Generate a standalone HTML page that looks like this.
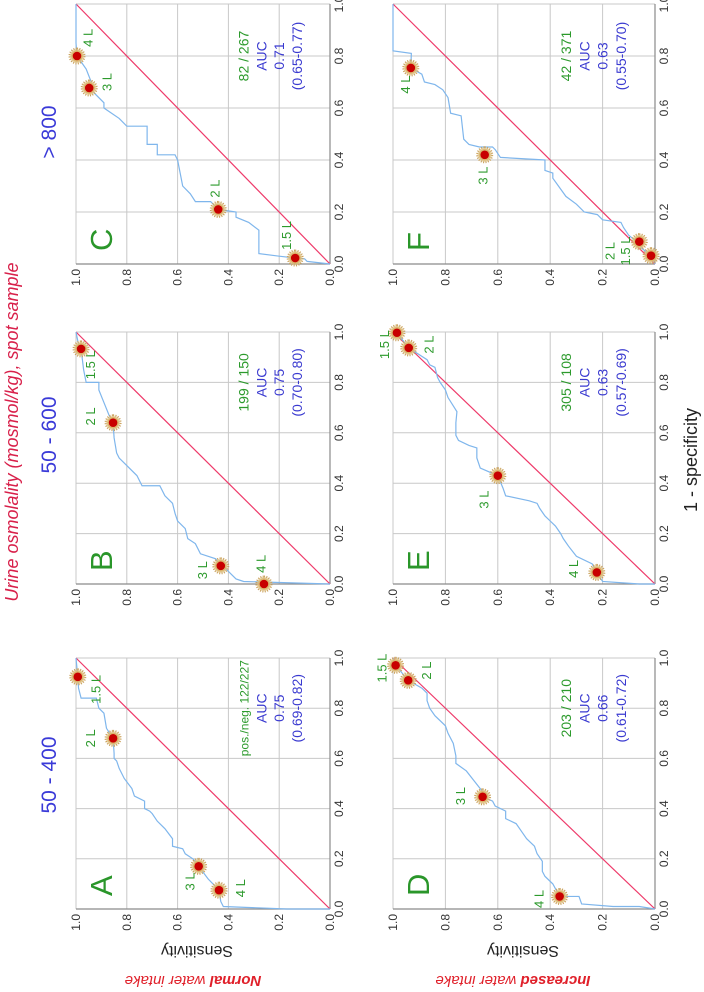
<!DOCTYPE html>
<html><head><meta charset="utf-8"><style>
html,body{margin:0;padding:0;background:#fff;}
svg{display:block;font-family:"Liberation Sans",sans-serif;}
</style></head><body>
<svg id="fig" width="704" height="992" viewBox="0 0 704 992" xmlns="http://www.w3.org/2000/svg">
<g id="root" transform="translate(0,992) rotate(-90)"></g>
</svg>
<script>
// ---- data ----
const panelLetters = ["A","B","C","D","E","F"];
const columnHeaders = ["50 - 400","50 - 600","> 800"];
const rowLabelsBold = ["Normal","Increased"];
const tickValues = [0,0.2,0.4,0.6,0.8,1.0];
const tickLabels = ["0.0","0.2","0.4","0.6","0.8","1.0"];
const countsA = "pos./neg. 122/227", countsB = "199 / 150", countsC = "82 / 267";
const countsD = "203 / 210", countsE = "305 / 108", countsF = "42 / 371";
const aucs = ["0.75","0.75","0.71","0.66","0.63","0.63"];
const cis = ["(0.69-0.82)","(0.70-0.80)","(0.65-0.77)","(0.61-0.72)","(0.57-0.69)","(0.55-0.70)"];

const curveA = [[0,0],[0,0.17],[0.01,0.42],[0.03,0.43],[0.075,0.437],[0.12,0.48],[0.17,0.517],[0.18,0.52],[0.2,0.54],[0.22,0.57],[0.24,0.58],[0.25,0.62],[0.28,0.62],[0.32,0.65],[0.35,0.68],[0.38,0.70],[0.39,0.71],[0.40,0.73],[0.43,0.73],[0.45,0.77],[0.48,0.78],[0.52,0.81],[0.56,0.83],[0.59,0.84],[0.60,0.85],[0.62,0.85],[0.68,0.854],[0.72,0.88],[0.78,0.89],[0.80,0.91],[0.84,0.92],[0.84,0.98],[0.88,0.99],[0.925,0.993],[1,1]];
const curveB = [[0,0],[0.01,0.34],[0.02,0.37],[0.04,0.39],[0.06,0.41],[0.072,0.43],[0.10,0.45],[0.12,0.51],[0.16,0.53],[0.18,0.56],[0.22,0.57],[0.25,0.60],[0.28,0.61],[0.32,0.62],[0.35,0.65],[0.39,0.67],[0.39,0.74],[0.43,0.76],[0.47,0.80],[0.50,0.83],[0.52,0.84],[0.58,0.85],[0.64,0.854],[0.67,0.87],[0.72,0.89],[0.77,0.91],[0.80,0.91],[0.80,0.96],[0.85,0.97],[0.933,0.98],[0.95,0.99],[1,1]];
const curveC = [[0,0],[0.01,0.09],[0.02,0.10],[0.023,0.137],[0.03,0.2],[0.04,0.28],[0.13,0.28],[0.16,0.32],[0.18,0.37],[0.2,0.37],[0.21,0.44],[0.24,0.47],[0.24,0.53],[0.27,0.55],[0.30,0.58],[0.40,0.60],[0.42,0.61],[0.42,0.68],[0.46,0.68],[0.46,0.72],[0.53,0.72],[0.53,0.80],[0.56,0.83],[0.60,0.89],[0.62,0.89],[0.677,0.948],[0.70,0.94],[0.75,0.96],[0.80,0.996],[0.85,1.0],[1,1]];
const curveD = [[0,0],[0.01,0.06],[0.01,0.16],[0.02,0.28],[0.05,0.29],[0.05,0.364],[0.10,0.39],[0.13,0.42],[0.15,0.43],[0.19,0.43],[0.22,0.45],[0.25,0.46],[0.28,0.49],[0.31,0.51],[0.34,0.53],[0.36,0.57],[0.39,0.57],[0.41,0.61],[0.43,0.62],[0.447,0.658],[0.47,0.66],[0.51,0.69],[0.55,0.72],[0.58,0.76],[0.61,0.76],[0.66,0.77],[0.70,0.79],[0.73,0.80],[0.77,0.84],[0.80,0.86],[0.83,0.87],[0.86,0.87],[0.88,0.89],[0.911,0.942],[0.971,0.99],[1,1]];
const curveE = [[0,0],[0,0.06],[0.01,0.2],[0.046,0.222],[0.08,0.24],[0.11,0.30],[0.15,0.33],[0.18,0.35],[0.20,0.36],[0.23,0.38],[0.25,0.40],[0.27,0.42],[0.30,0.44],[0.32,0.45],[0.33,0.48],[0.35,0.57],[0.38,0.58],[0.43,0.60],[0.46,0.667],[0.50,0.68],[0.54,0.68],[0.55,0.71],[0.57,0.75],[0.59,0.76],[0.64,0.76],[0.684,0.756],[0.74,0.79],[0.77,0.80],[0.80,0.82],[0.82,0.83],[0.86,0.84],[0.87,0.86],[0.89,0.87],[0.91,0.90],[0.937,0.94],[0.997,0.985],[1,1]];
const curveF = [[0,0],[0.032,0.015],[0.06,0.05],[0.086,0.07],[0.11,0.10],[0.14,0.12],[0.16,0.13],[0.17,0.20],[0.19,0.22],[0.20,0.27],[0.23,0.30],[0.26,0.34],[0.33,0.39],[0.35,0.39],[0.36,0.42],[0.40,0.42],[0.41,0.59],[0.44,0.61],[0.45,0.62],[0.45,0.67],[0.46,0.71],[0.48,0.73],[0.57,0.74],[0.58,0.78],[0.64,0.79],[0.67,0.81],[0.69,0.84],[0.70,0.88],[0.73,0.89],[0.754,0.932],[0.81,0.93],[0.82,1.0],[1,1]];

// threshold points: [fpr, sens]
const ptsA = [[0.925,0.993],[0.68,0.854],[0.17,0.517],[0.075,0.437]];
const ptsB = [[0.933,0.98],[0.64,0.854],[0.072,0.43],[0.0,0.26]];
const ptsC = [[0.023,0.137],[0.21,0.44],[0.677,0.948],[0.80,0.996]];
const ptsD = [[0.971,0.99],[0.911,0.942],[0.447,0.658],[0.05,0.364]];
const ptsE = [[0.997,0.985],[0.937,0.94],[0.43,0.60],[0.046,0.222]];
const ptsF = [[0.032,0.015],[0.086,0.06],[0.42,0.65],[0.754,0.932]];
const ptNames = ["1.5 L","2 L","3 L","4 L"];
const ptNamesC = ["1.5 L","2 L","3 L","4 L"];
// label anchor positions in data units [fpr, sens]
const lblA = [[0.875,0.92],[0.68,0.94],[0.11,0.55],[0.083,0.35]];
const lblB = [[0.87,0.94],[0.665,0.94],[0.055,0.50],[0.08,0.27]];
const lblC = [[0.11,0.17],[0.29,0.45],[0.70,0.876],[0.87,0.95]];
const lblD = [[0.96,1.04],[0.95,0.87],[0.45,0.74],[0.04,0.44]];
const lblE = [[0.95,1.03],[0.95,0.86],[0.335,0.65],[0.06,0.31]];
const lblF = [[0.05,0.11],[0.05,0.17],[0.34,0.655],[0.69,0.95]];

// ---- layout (original landscape coords before rotation) ----
const colX = [[83,334],[408,660],[728,988]];
const rowY = [[76,330],[393,655]];
const NS = "http://www.w3.org/2000/svg";
const root = document.getElementById('root');
function mk(tag, attrs, parent){const e=document.createElementNS(NS,tag);for(const k in attrs)e.setAttribute(k,attrs[k]);(parent||root).appendChild(e);return e;}

const panels = [
 {letter:0,col:0,row:0,counts:countsA,curve:curveA,pts:ptsA,lbl:lblA},
 {letter:1,col:1,row:0,counts:countsB,curve:curveB,pts:ptsB,lbl:lblB},
 {letter:2,col:2,row:0,counts:countsC,curve:curveC,pts:ptsC,lbl:lblC},
 {letter:3,col:0,row:1,counts:countsD,curve:curveD,pts:ptsD,lbl:lblD},
 {letter:4,col:1,row:1,counts:countsE,curve:curveE,pts:ptsE,lbl:lblE},
 {letter:5,col:2,row:1,counts:countsF,curve:curveF,pts:ptsF,lbl:lblF}
];

// defs for spiky halo
const defs = mk('defs',{});
const rg = mk('radialGradient',{id:'halo'},defs);
mk('stop',{offset:'0%','stop-color':'#f3d79a'},rg);
mk('stop',{offset:'70%','stop-color':'#d9b46a'},rg);
mk('stop',{offset:'100%','stop-color':'#e8cf9a','stop-opacity':'0.3'},rg);

panels.forEach((p,i)=>{
  const [x0,x1]=colX[p.col],[y0,y1]=rowY[p.row];
  const sx=v=>x0+v*(x1-x0), sy=v=>y1-v*(y1-y0);
  const g=mk('g',{});
  
  
  mk('rect',{x:x0,y:y0,width:x1-x0,height:y1-y0,fill:'#fff'},g);
  tickValues.forEach((t,k)=>{
    if(k>0){const l=mk('line',{x1:sx(t),x2:sx(t),y1:y0,y2:y1,stroke:'#c8c8c8','stroke-width':1},g);
      
      const m=mk('line',{x1:x0,x2:x1,y1:sy(t),y2:sy(t),stroke:'#c8c8c8','stroke-width':1},g);
      }
    const tx=mk('text',{x:sx(t),y:y1+13,'text-anchor':'middle','font-size':12,fill:'#333'},g);
    tx.textContent=tickLabels[k];
    
    const ty=mk('text',{x:x0-5,y:sy(t)+4,'text-anchor':'end','font-size':12,fill:'#333'},g);
    ty.textContent=tickLabels[k];
    
  });
  mk('line',{x1:x0,x2:x0,y1:y0,y2:y1,stroke:'#8a8a8a','stroke-width':1.2},g);
  mk('line',{x1:x0,x2:x1,y1:y1,y2:y1,stroke:'#8a8a8a','stroke-width':1.2},g);
  const diag=mk('line',{x1:sx(0),y1:sy(0),x2:sx(1),y2:sy(1),stroke:'#ee3a6a','stroke-width':1.2},g);
  
  const path=mk('polyline',{points:p.curve.map(d=>sx(d[0])+','+sy(d[1])).join(' '),fill:'none',stroke:'#7fb6ec','stroke-width':1.2},g);
  
  p.pts.forEach((d,k)=>{
    const h=mk('circle',{cx:sx(d[0]),cy:sy(d[1]),r:7.5,fill:'url(#halo)',stroke:'#c9a05a','stroke-width':2,'stroke-dasharray':'1 1.4'},g);
    
    const c=mk('circle',{cx:sx(d[0]),cy:sy(d[1]),r:4.3,fill:'#c80000'},g);
    
    const lb=p.lbl[k];
    const t=mk('text',{x:sx(lb[0]),y:sy(lb[1])+4,'text-anchor':'middle','font-size':13,fill:'#2c9a2c'},g);
    t.textContent=ptNames[k];
    
  });
  const L=mk('text',{x:x0+13,y:y0+36,'font-size':31,fill:'#2a962a'},g);
  L.textContent=panelLetters[p.letter];
  
  const ax=x0+0.8*(x1-x0), h=y1-y0;
  const lines=[p.counts,'AUC',aucs[i],cis[i]];
  const fr=[0.66,0.73,0.80,0.87];
  lines.forEach((s,k)=>{
    const t=mk('text',{x:ax,y:y0+fr[k]*h+5,'text-anchor':'middle','font-size':s.length>12?12:14,fill:k===0?'#2c9a2c':'#3a3ad0'},g);
    t.textContent=s;
    
    
  });
});

// titles
const ttl=mk('text',{x:560,y:18,'text-anchor':'middle','font-size':18,'font-style':'italic',fill:'#d8204a'});
ttl.textContent='Urine osmolality (mosmol/kg),  spot sample';

const hx=[217,557,860];
columnHeaders.forEach((s,k)=>{
  const t=mk('text',{x:hx[k],y:56,'text-anchor':'middle','font-size':21,fill:'#3a3ad8'});
  t.textContent=s;
  
});
const xt=mk('text',{x:532,y:697,'text-anchor':'middle','font-size':18,fill:'#222'});
xt.textContent='1 - specificity';

[197,523].forEach((cy,k)=>{
  const s=mk('text',{x:0,y:0,transform:'translate(46,'+cy+') rotate(-90)','text-anchor':'middle','font-size':16,fill:'#222'});
  s.textContent='Sensitivity';
  
  const r=mk('text',{x:0,y:0,transform:'translate(16,'+(k?513:193)+') rotate(-90)','text-anchor':'middle','font-size':15,'font-style':'italic',fill:'#e0202a'});
  const b=mk('tspan',{'font-weight':'bold'},r);b.textContent=rowLabelsBold[k];
  const w=mk('tspan',{},r);w.textContent=' water intake';
  
});
</script>
</body></html>
